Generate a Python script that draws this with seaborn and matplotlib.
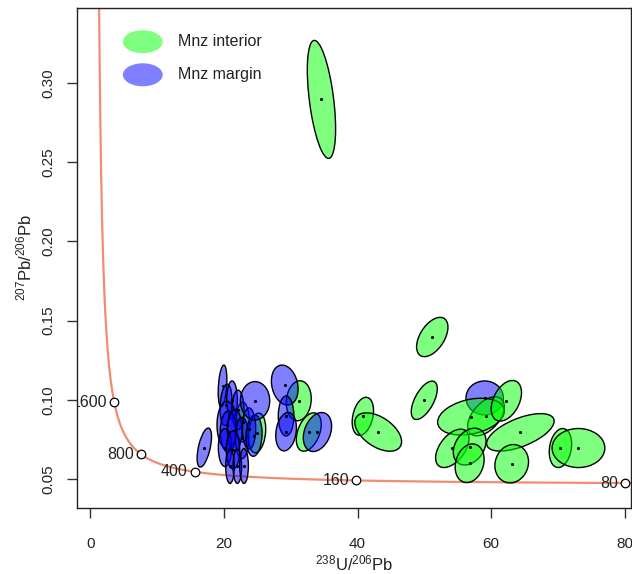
import numpy as np
import pandas as pd
import matplotlib
matplotlib.use("Agg")
import matplotlib.pyplot as plt
from matplotlib.patches import Ellipse
from matplotlib.transforms import offset_copy
import seaborn as sns

# Monazite U-Pb analyses (Tera-Wasserburg space), listed in drawing order.
# x = 238U/206Pb, y = 207Pb/206Pb, sx/sy = ellipse half-extents, rho = error correlation
group = (["Mnz interior"] * 2 + ["Mnz margin"] * 17 +
         ["Mnz interior", "Mnz margin", "Mnz margin", "Mnz margin",
          "Mnz interior", "Mnz margin", "Mnz interior",
          "Mnz interior", "Mnz interior", "Mnz interior", "Mnz interior",
          "Mnz margin"] +
         ["Mnz interior"] * 10)
x = [22.8, 24.95,
     19.78, 20.3, 21.2, 22.1, 20.45, 20.64, 21.6, 22.7, 23.75, 20.15, 21.35,
     20.9, 22.0, 23.0, 24.5, 24.65, 17.05,
     31.2, 29.1, 29.3, 29.3, 32.7, 34.0, 34.6,
     51.2, 50.0, 40.8, 43.1,
     59.05,
     59.25, 57.0, 62.3, 64.4, 54.2, 56.8, 56.8, 63.1, 70.4, 73.1]
y = [0.0861, 0.0792,
     0.1088, 0.0969, 0.1000, 0.0937, 0.0842, 0.0800, 0.0810, 0.0760, 0.0820,
     0.0700, 0.0685, 0.0581, 0.0581, 0.0584, 0.0775, 0.0995, 0.0700,
     0.0995, 0.1094, 0.0899, 0.0800, 0.0798, 0.0798, 0.2895,
     0.1397, 0.0998, 0.0897, 0.0798,
     0.1013,
     0.0897, 0.0895, 0.0995, 0.0796, 0.0695, 0.0706, 0.0601, 0.0598, 0.0697,
     0.0697]
sx = [1.0, 1.3,
      0.65, 0.9, 0.8, 0.9, 1.5, 1.2, 1.1, 1.0, 1.0, 1.0, 1.0,
      0.65, 0.65, 0.65, 1.2, 2.2, 1.08,
      1.87, 2.0, 1.17, 1.55, 1.87, 2.12, 2.12,
      2.35, 1.95, 1.6, 3.5,
      2.8,
      2.74, 5.0, 2.27, 5.06, 2.5, 2.45, 2.17, 2.52, 1.68, 3.95]
sy = [0.0125, 0.0125,
      0.0132, 0.0130, 0.0120, 0.0125, 0.0150, 0.0130, 0.0130, 0.0130, 0.0130,
      0.0120, 0.0120, 0.0107, 0.0107, 0.0110, 0.0130, 0.0121, 0.0123,
      0.0126, 0.0126, 0.0126, 0.0121, 0.0121, 0.0123, 0.0372,
      0.0124, 0.0121, 0.0120, 0.0121,
      0.0107,
      0.0123, 0.0116, 0.0128, 0.0118, 0.0121, 0.0116, 0.0122, 0.0121, 0.0123,
      0.0123]
rho = [0.0, 0.2,
       0.3, 0.2, 0.0, 0.0, 0.0, 0.0, 0.0, 0.0, 0.0, 0.0, 0.0,
       0.0, 0.0, 0.0, 0.1, 0.0, 0.55,
       0.1, -0.2, 0.0, 0.2, 0.4, 0.3, -0.5,
       0.5, 0.6, 0.3, -0.5,
       0.0,
       0.5, 0.3, 0.4, 0.6, 0.5, 0.3, 0.2, 0.1, 0.2, 0.0]

# Concordia age labels (Ma)
concordia_ages = [1600, 800, 400, 160, 80]

fill = {"Mnz interior": (0.0, 1.0, 0.0, 0.5), "Mnz margin": (0.0, 0.0, 1.0, 0.5)}

# decay constants (1/yr) and present-day 238U/235U
L238, L235, U85 = 1.55125e-10, 9.8485e-10, 137.88


def tw(t_ma):
    t = np.asarray(t_ma, dtype=float) * 1e6
    e8 = np.expm1(L238 * t)
    e5 = np.expm1(L235 * t)
    return 1.0 / e8, e5 / (U85 * e8)


df = pd.DataFrame({"group": group, "x": x, "y": y, "sx": sx, "sy": sy, "rho": rho})

sns.set_style("ticks")
plt.rcParams["font.family"] = ["Liberation Sans", "DejaVu Sans"]
plt.rcParams["mathtext.default"] = "regular"

fig = plt.figure(figsize=(6.32, 5.74), dpi=100)
ax = fig.add_axes([0.1226, 0.115, 0.8758, 0.871])

# concordia curve
t_curve = np.concatenate([np.linspace(70, 400, 400), np.linspace(400, 5000, 800)])
cx, cy = tw(t_curve)
curve = pd.DataFrame({"x": cx, "y": cy})
sns.lineplot(data=curve, x="x", y="y", sort=False, color="#F08C70", lw=1.6,
             ax=ax, zorder=1)

# error ellipses from each covariance matrix
for i, r in df.iterrows():
    cov = np.array([[r.sx ** 2, r.rho * r.sx * r.sy],
                    [r.rho * r.sx * r.sy, r.sy ** 2]])
    vals, vecs = np.linalg.eigh(cov)
    ang = np.degrees(np.arctan2(vecs[1, 1], vecs[0, 1]))
    e = Ellipse((r.x, r.y), 2 * np.sqrt(vals[1]), 2 * np.sqrt(vals[0]), angle=ang,
                facecolor=fill[r.group], edgecolor="black", lw=1.0, zorder=2 + i * 0.01)
    ax.add_patch(e)

sns.scatterplot(data=df, x="x", y="y", color="black", s=5, linewidth=0,
                legend=False, ax=ax, zorder=4)

# concordia age markers and labels (labels clipped at the frame)
ax_, ay_ = tw(concordia_ages)
marks = pd.DataFrame({"x": ax_, "y": ay_})
sns.scatterplot(data=marks, x="x", y="y", marker="o", s=38, facecolor="white",
                edgecolor="black", linewidth=0.9, legend=False, ax=ax, zorder=5,
                clip_on=False)
label_tr = offset_copy(ax.transData, fig=fig, x=-5, y=0, units="points")
for age, px, py in zip(concordia_ages, ax_, ay_):
    ax.text(px, py, str(age), transform=label_tr, ha="right", va="center",
            fontsize=11.5, color="#222222", clip_on=True, zorder=5)

ax.set_xlim(-1.95, 80.97)
ax.set_ylim(0.0319, 0.3471)
ax.set_xticks([0, 20, 40, 60, 80])
ax.set_yticks([0.05, 0.10, 0.15, 0.20, 0.25, 0.30])
ax.set_yticklabels(["0.05", "0.10", "0.15", "0.20", "0.25", "0.30"],
                   rotation=90, va="center")
ax.tick_params(axis="both", direction="out", length=7, width=1, labelsize=11,
               color="#333333", labelcolor="#222222")
ax.tick_params(axis="x", pad=14)
ax.tick_params(axis="y", pad=9)
for s in ax.spines.values():
    s.set_visible(True)
    s.set_color("#222222")
    s.set_linewidth(1.0)

ax.set_xlabel(r"$^{238}$U/$^{206}$Pb", fontsize=12, color="#222222")
ax.set_ylabel(r"$^{207}$Pb/$^{206}$Pb", fontsize=12, color="#222222")
ax.xaxis.set_label_coords(0.5, -0.092)
ax.yaxis.set_label_coords(-0.078, 0.5)

# legend keys
for lab, yy in [("Mnz interior", 0.9326), ("Mnz margin", 0.8665)]:
    ax.add_patch(Ellipse((0.118, yy), 0.072, 0.046, transform=ax.transAxes,
                         facecolor=fill[lab], edgecolor="none", zorder=6))
    ax.text(0.182, yy, lab, transform=ax.transAxes, ha="left", va="center",
            fontsize=11.5, color="#222222", zorder=6)

fig.savefig("out.png", dpi=100)
